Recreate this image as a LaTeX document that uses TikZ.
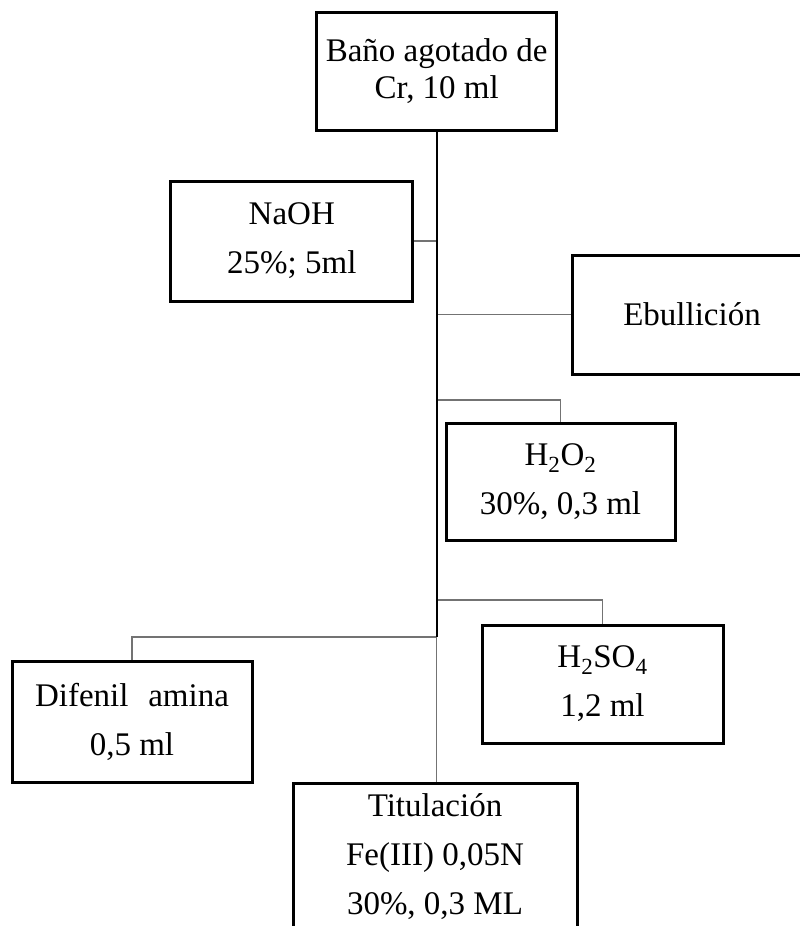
\documentclass[tikz,border=0pt]{standalone}
\usepackage{fontspec}
\setmainfont{Liberation Serif}
\usetikzlibrary{calc}

\tikzset{
  box/.style={draw, line width=3pt, inner sep=0pt, align=center, font=\fontsize{33}{49}\selectfont},
  trunk/.style={line width=2pt, black},
  branch/.style={line width=1.5pt, black!55}
}

\begin{document}
\begin{tikzpicture}[x=1pt, y=-1pt]
\useasboundingbox (0,0) rectangle (800,926);
\clip (0,0) rectangle (800,926);
\node[box, minimum width=240, minimum height=118, font=\fontsize{33}{37}\selectfont] (Bano) at (436.7,71) {Baño agotado de\\Cr, 10 ml};
\node[box, minimum width=242, minimum height=120] (NaOH) at (291.8,241) {NaOH\\25\%; 5ml};
\node[box, minimum width=240, minimum height=119] (Ebu) at (692,314.5) {Ebullición};
\node[box, minimum width=229, minimum height=117] (HO) at (560.5,481.5) {H\textsubscript{2}O\textsubscript{2}\\30\%, 0,3 ml};
\node[box, minimum width=241, minimum height=118] (HSO) at (602.5,684) {H\textsubscript{2}SO\textsubscript{4}\\1,2 ml};
\node[box, minimum width=240, minimum height=121] (Dif) at (132,721.5) {Difenil\hspace{0.6em}amina\\0,5 ml};
\node[box, minimum width=284, minimum height=148] (Tit) at (435,857) {Titulación\\Fe(III) 0,05N\\30\%, 0,3 ML};
\coordinate (T1) at (436.7,400) {};
\coordinate (T2) at (436.7,600) {};
\coordinate (T3) at (436.7,637) {};
\draw[branch] (NaOH.east) -- (NaOH.east -| T3);
\draw[branch] (Ebu.west) -- (Ebu.west -| T3);
\foreach \n/\t in {HO/T1, HSO/T2, Dif/T3} {
    \draw[branch] (\n.north) |- (\t);
}
\draw[branch] (T3) -- (T3 |- Tit.north);
\draw[trunk] (Bano.south) -- (T3);
\end{tikzpicture}
\end{document}
